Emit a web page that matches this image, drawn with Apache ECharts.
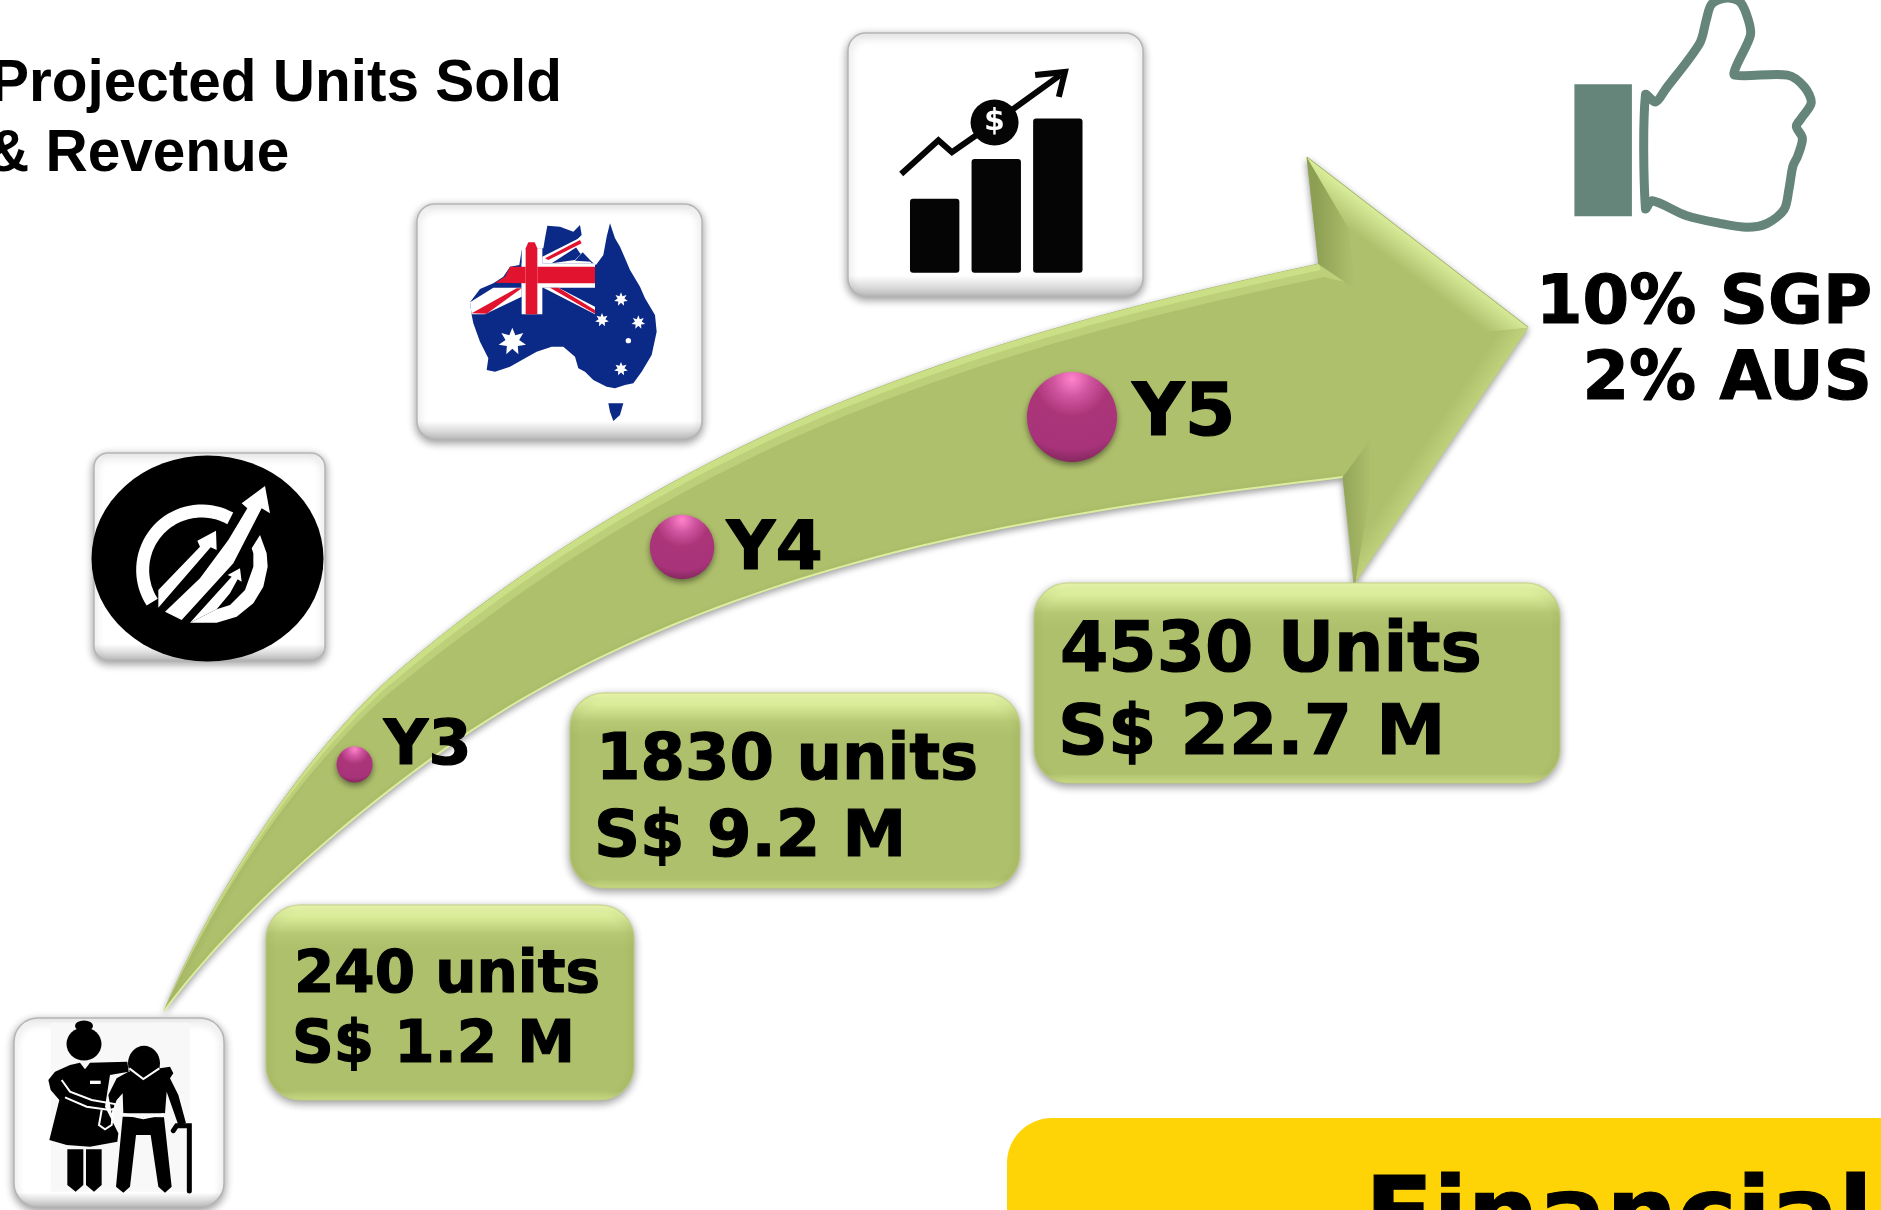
<!DOCTYPE html>
<html>
<head>
<meta charset="utf-8">
<title>Projected Units Sold & Revenue</title>
<script src="https://cdn.jsdelivr.net/npm/echarts@6/dist/echarts.min.js"></script>
<style>
  html, body { margin: 0; padding: 0; background: #fff; overflow: hidden; }
  #chart { width: 1881px; height: 1210px; }
</style>
</head>
<body>
<div id="chart"></div>
<script>
// values
const years = ['Y3', 'Y4', 'Y5'];
const unitsSold = [240, 1830, 4530];
const unitWords = ['units', 'units', 'Units'];
const revenueM = ['1.2', '9.2', '22.7'];
const progressX = [18.85, 36.26, 56.99]; // share of slide width
const progressY = [36.82, 54.79, 65.54]; // share of slide height
const titleLines = ['Projected Units Sold', '& Revenue'];
const shareLines = ['10% SGP', '2% AUS'];
const bannerText = 'Financial';

const SANS = '"DejaVu Sans"';
const ARIAL = '"Liberation Sans"';
const at = (ox, oy) => (p) => [ox + p[0] / 3, oy + p[1] / 3];
const zA = at(460, 215), zB = at(90, 450), zC = at(30, 1010), zH = at(1280, 140);
const z2 = (p) => [820 + p[0] / 1.478, p[1] / 2.53];

// flatten a cubic so it can go into a polygon
function curve(a, b, c, d) {
  const out = [];
  for (let i = 0; i <= 24; i++) {
    const t = i / 24, u = 1 - t;
    out.push([
      u * u * u * a[0] + 3 * u * u * t * b[0] + 3 * u * t * t * c[0] + t * t * t * d[0],
      u * u * u * a[1] + 3 * u * u * t * b[1] + 3 * u * t * t * c[1] + t * t * t * d[1]
    ]);
  }
  return out;
}
function vgrad(stops) {
  return { type: 'linear', x: 0, y: 0, x2: 0, y2: 1, colorStops: stops.map((s) => ({ offset: s[0], color: s[1] })) };
}
function span(a, b, c0, c1) { // gradient in slide pixels
  return { type: 'linear', global: true, x: a[0], y: a[1], x2: b[0], y2: b[1], colorStops: [{ offset: 0, color: c0 }, { offset: 1, color: c1 }] };
}
function poly(points, style, z) {
  return { type: 'polygon', z: z || 1, shape: { points: points }, style: style };
}
function line(points, style, z) {
  return { type: 'polyline', z: z || 1, shape: { points: points }, style: Object.assign({ fill: null }, style) };
}
function oval(c, rx, ry, fill, z) {
  return { type: 'circle', z: z || 2, x: c[0], y: c[1], scaleX: rx, scaleY: ry, shape: { cx: 0, cy: 0, r: 1 }, style: { fill: fill } };
}
function box(x0, y0, x1, y1, r, style, z) {
  return { type: 'rect', z: z || 1, shape: { x: x0, y: y0, width: x1 - x0, height: y1 - y0, r: r }, style: style };
}
function txt(str, x, base, size, family, align, heavy) {
  return {
    type: 'text', z: 5, x: x, y: base - 0.245 * size,
    style: {
      text: str, fill: '#000', align: align || 'left', verticalAlign: 'middle', font: 'bold ' + size + 'px ' + family,
      stroke: heavy ? '#000' : null, lineWidth: heavy ? 1.2 : 0
    }
  };
}

// arrow body
const upper = [].concat(
  curve([164, 1011], [215, 890], [300, 760], [388, 680]),
  curve([388, 680], [520, 565], [670, 475], [820, 411]),
  curve([820, 411], [990, 340], [1150, 300], [1319, 264])
);
const lower = [].concat(
  curve([1343, 477], [1150, 500], [980, 525], [820, 573]),
  curve([820, 573], [680, 615], [560, 670], [459, 739]),
  curve([459, 739], [350, 815], [240, 910], [164, 1011])
);
const arrowShape = [].concat(upper, [[1307, 157], [1528, 327], [1354, 583]], lower);
function bevel(dx, dy) { // band under the top edge, tapers away at the tail
  return upper.map((p, i) => {
    const k = Math.min(1, i / 30);
    return [p[0] + dx * k, p[1] + dy * k];
  }).reverse();
}

const graphics = [];

graphics.push(poly(arrowShape, {
  fill: '#afc06c', stroke: '#a3b266', lineWidth: 1,
  shadowBlur: 7, shadowColor: 'rgba(0,0,0,0.4)', shadowOffsetY: 3
}));
graphics.push(poly(upper.concat([[1345, 282]], bevel(5, 13)), { fill: '#bdd079' }));
graphics.push(poly(upper.concat(bevel(2, 6)), { fill: '#cbdf86' }));
graphics.push(line(lower, { stroke: '#dcee9e', lineWidth: 2 }));
// head facets
const headTop = [[80, 52], [745, 563], [590, 580], [205, 265]].map(zH);
graphics.push(poly(headTop, { fill: span([1417, 242], [1399, 266], '#d8eb98', '#afc06c') }));
graphics.push(poly([[745, 563], [225, 1330], [270, 1060], [590, 580]].map(zH), { fill: span([1442, 455], [1424, 443], '#bfd17b', '#afc06c') }));
graphics.push(poly([[80, 52], [115, 372], [230, 450], [205, 265]].map(zH), { fill: span([1316, 250], [1354, 250], '#8d9f53', '#afc06c') }));
graphics.push(poly([[188, 1012], [225, 1330], [270, 1060], [270, 900]].map(zH), { fill: span([1343, 520], [1372, 520], '#92a458', '#afc06c') }));

// green value boxes
const whiteShadow = { shadowBlur: 8, shadowColor: 'rgba(0,0,0,0.4)', shadowOffsetY: 3 };
const valueBoxes = [
  { rect: [266, 905, 634, 1100], text: 294, base: [991, 1061], size: 58 },
  { rect: [570, 693, 1020, 888], text: 596, base: [778, 855], size: 64 },
  { rect: [1034, 583, 1560, 783], text: 1060, base: [670, 753], size: 69.5 }
];
valueBoxes.forEach((b, i) => {
  graphics.push(box(b.rect[0], b.rect[1], b.rect[2], b.rect[3], 34, Object.assign({
    fill: vgrad([[0, '#eefbb0'], [0.06, '#dcee9a'], [0.15, '#b6c873'], [0.22, '#afc06c'], [0.95, '#afc06c'], [1, '#cfe088']]),
    stroke: 'rgba(190,205,120,0.6)', lineWidth: 1.5
  }, whiteShadow), 3));
  graphics.push(txt(unitsSold[i] + ' ' + unitWords[i], b.text, b.base[0], b.size, SANS, 'left', true));
  graphics.push(txt('S$ ' + revenueM[i] + ' M', b.text - 2, b.base[1], b.size, SANS, 'left', true));
});

// white icon tiles
function tile(x0, y0, x1, y1, r) {
  graphics.push(box(x0, y0, x1, y1, r, Object.assign({
    fill: vgrad([[0, '#efefef'], [0.03, '#ffffff'], [0.92, '#ffffff'], [1, '#bdbdbd']]),
    stroke: '#b5b5b5', lineWidth: 1.5
  }, whiteShadow)));
}
tile(848, 33, 1143, 296, 18);
tile(417, 204, 702, 439, 18);
tile(94, 453, 325, 660, 14);
tile(14, 1018, 224, 1207, 24);

// growth badge
graphics.push(oval([207.5, 558.5], 116, 103, '#000'));
function ringArc(c, r, from, to) {
  const pts = [];
  for (let a = from; a <= to; a += 4) {
    pts.push([c[0] + r * Math.cos(a * Math.PI / 180), c[1] + r * Math.sin(a * Math.PI / 180)]);
  }
  return pts;
}
graphics.push(line(ringArc(zB([335, 360]), 59, 147, 301), { stroke: '#fff', lineWidth: 13 }, 3));
[
  [[510, 255], [530, 310], [533, 350], [520, 410], [490, 460], [440, 500], [380, 518], [300, 518], [380, 478], [420, 465], [465, 420], [490, 350], [490, 310], [485, 295]],
  [[205, 420], [330, 290], [322, 272], [378, 242], [380, 300], [362, 292], [225, 450], [205, 473]],
  [[225, 485], [330, 385], [415, 270], [472, 175], [455, 160], [525, 108], [540, 190], [515, 175], [430, 340], [275, 510]],
  [[300, 518], [380, 430], [425, 380], [413, 375], [450, 355], [455, 395], [443, 388], [420, 430], [380, 478]]
].forEach((a) => graphics.push(poly(a.map(zB), { fill: '#fff' }, 4)));

// Australia with the flag in its corner
const NAVY = '#0b2a87', RED = '#e2132f';
graphics.push(poly([
  [30, 262], [60, 222], [100, 205], [130, 185], [150, 155], [178, 150], [185, 105], [250, 100], [255, 70], [262, 32], [300, 35],
  [340, 50], [360, 30], [365, 60], [340, 85], [360, 115], [395, 140], [408, 150], [430, 120], [440, 65], [450, 25], [465, 70],
  [480, 95], [495, 130], [510, 165], [540, 215], [555, 250], [585, 300], [590, 350], [575, 420], [545, 470], [520, 505],
  [495, 510], [465, 520], [440, 515], [400, 495], [375, 470], [355, 460], [345, 425], [310, 395], [275, 395], [230, 410],
  [195, 430], [150, 455], [105, 470], [80, 465], [85, 430], [60, 380], [40, 325], [35, 300]
].map(zA), { fill: NAVY }));
graphics.push(poly([[445, 565], [490, 565], [480, 600], [460, 618], [450, 590]].map(zA), { fill: NAVY }));
[
  [[185, 145], [405, 145], [405, 218], [185, 218]], // white behind the crossbar
  [[185, 100], [247, 100], [247, 298], [185, 298]],
  [[30, 262], [100, 218], [185, 218], [185, 245], [75, 298], [35, 298]],
  [[247, 125], [360, 68], [368, 85], [275, 145], [247, 145]],
  [[275, 145], [345, 135], [368, 112], [395, 145]],
  [[250, 218], [295, 218], [405, 275], [405, 298]]
].forEach((a) => graphics.push(poly(a.map(zA), { fill: '#fff' }, 2)));
graphics.push(poly([[395, 140], [368, 112], [345, 137]].map(zA), { fill: NAVY }, 2));
[
  [[197, 100], [205, 82], [224, 82], [232, 100], [232, 298], [197, 298]],
  [[105, 203], [135, 185], [150, 155], [197, 155], [197, 205]],
  [[232, 155], [405, 155], [405, 205], [232, 205]],
  [[35, 295], [170, 220], [185, 220], [80, 296]],
  [[255, 130], [360, 75], [365, 85], [265, 135]],
  [[270, 218], [295, 218], [405, 285], [405, 296]]
].forEach((a) => graphics.push(poly(a.map(zA), { fill: RED }, 3)));
function star(c, r) {
  const pts = [];
  for (let i = 0; i < 14; i++) {
    const a = -Math.PI / 2 + i * Math.PI / 7;
    const rr = i % 2 ? r * 0.5 : r;
    pts.push([c[0] + rr * Math.cos(a), c[1] + rr * Math.sin(a)]);
  }
  return pts;
}
[[[157, 380], 14], [[483, 253], 7], [[426, 315], 7], [[535, 322], 7], [[483, 462], 7]].forEach((s) => {
  graphics.push(poly(star(zA(s[0]), s[1]), { fill: '#fff' }, 3));
});
graphics.push(oval(zA([505, 377]), 2.7, 2.7, '#fff', 3));

// sales chart icon
[[133, 503, 206], [224, 402, 297], [315, 300, 388]].forEach((b) => {
  const a = z2([b[0], b[1]]), c = z2([b[2], 690]);
  graphics.push(box(a[0], a[1], c[0], c[1], 3, { fill: '#050505' }, 2));
});
graphics.push(line([[120, 440], [175, 355], [195, 385], [258, 310], [355, 190]].map(z2), { stroke: '#050505', lineWidth: 6 }, 2));
graphics.push(line([[318, 190], [362, 182], [353, 245]].map(z2), { stroke: '#050505', lineWidth: 6 }, 2));
const coin = z2([258, 310]);
graphics.push(oval(coin, 24, 23, '#050505', 3));
graphics.push({
  type: 'text', z: 4, x: coin[0], y: coin[1],
  style: { text: '$', fill: '#fff', align: 'center', verticalAlign: 'middle', font: 'bold 30px ' + SANS }
});

// carer and elderly man icon
const a3 = zC([62, 38]), b3 = zC([480, 545]);
graphics.push(box(a3[0], a3[1], b3[0], b3[1], 0, { fill: '#f8f8f8' }, 2));
const BK = '#000';
[
  [[120, 165], [150, 158], [165, 178], [180, 158], [292, 155], [296, 185], [240, 195], [225, 290], [265, 370], [262, 395], [180, 410], [110, 405], [58, 390], [88, 270], [62, 240], [55, 210], [75, 185]],
  [[112, 418], [160, 418], [160, 525], [137, 545], [112, 525]],
  [[168, 418], [215, 418], [215, 525], [192, 545], [168, 525]],
  [[245, 310], [235, 255], [260, 205], [295, 185], [390, 175], [420, 170], [430, 190], [420, 205], [445, 255], [468, 340], [445, 345], [410, 245], [405, 310], [280, 310], [278, 250], [260, 270]],
  [[278, 320], [402, 322], [425, 530], [405, 548], [385, 530], [362, 375], [318, 375], [300, 530], [280, 548], [258, 530]]
].forEach((a) => graphics.push(poly(a.map(zC), { fill: BK }, 3)));
graphics.push(oval(zC([162, 102]), 17.5, 16.5, BK, 3));
graphics.push(oval(zC([162, 48]), 9, 5.5, BK, 3));
graphics.push(oval(zC([342, 160]), 16, 17.5, BK, 4));
[
  [[95, 210], [120, 245], [185, 270], [255, 282], [258, 295], [240, 300], [170, 290], [105, 262]],
  [[215, 300], [207, 345], [225, 358], [245, 345], [250, 300]],
  [[298, 175], [340, 207], [388, 175]],
  [[280, 312], [340, 325], [403, 312]]
].forEach((a) => graphics.push(line(a.map(zC), { stroke: '#fff', lineWidth: 2 }, 5)));
graphics.push(box(zC([180, 212])[0], zC([180, 212])[1], zC([212, 222])[0], zC([212, 222])[1], 0, { fill: '#fff' }, 5));
graphics.push(line([[430, 362], [440, 347], [478, 347], [478, 543]].map(zC), { stroke: BK, lineWidth: 5, lineCap: 'round' }, 4));

// thumbs up
const THUMB = '#65847a';
const r1 = z2([1115, 213]), r2 = z2([1200, 547]);
graphics.push(box(r1[0], r1[1], r2[0], r2[1], 0, { fill: THUMB }));
graphics.push({
  type: 'polygon', z: 1,
  shape: {
    smooth: 0.3,
    points: [
      [1220, 240], [1235, 258], [1250, 225], [1300, 110], [1310, 50], [1318, 10], [1340, -5], [1360, 5], [1372, 50], [1375, 90],
      [1355, 165], [1352, 190], [1430, 190], [1455, 220], [1465, 260], [1450, 300], [1443, 320], [1452, 350], [1445, 395],
      [1438, 420], [1432, 480], [1425, 530], [1400, 565], [1370, 575], [1330, 565], [1280, 545], [1230, 508], [1220, 528]
    ].map(z2)
  },
  style: { fill: 'none', stroke: THUMB, lineWidth: 9, lineJoin: 'round' }
});

// heading, share text, banner
graphics.push(txt(titleLines[0], -10, 99, 58.5, ARIAL));
graphics.push(txt(titleLines[1], -13, 169, 58.5, ARIAL));
graphics.push(txt(shareLines[0], 1872, 322, 67, SANS, 'right', true));
graphics.push(txt(shareLines[1], 1872, 398, 67, SANS, 'right', true));
graphics.push(box(1007, 1118, 2000, 1400, 45, { fill: '#ffd406' }));
graphics.push(txt(bannerText, 1365, 1247, 100, SANS, 'left', true));

// per bubble label look, same order as years
const labelSizes = [62, 68, 73];
const labelGaps = [11, 12, 15];
const labelLift = [-17, 4, -1];

const chart = echarts.init(document.getElementById('chart'));
chart.setOption({
  backgroundColor: '#fff',
  animation: false,
  grid: { left: 0, right: 0, top: 0, bottom: 0 },
  xAxis: { type: 'value', min: 0, max: 100, show: false },
  yAxis: { type: 'value', min: 0, max: 100, show: false },
  graphic: { elements: graphics },
  series: [{
    type: 'scatter',
    z: 10,
    silent: true,
    data: years.map((name, i) => ({
      name: name,
      value: [progressX[i], progressY[i], unitsSold[i]],
      label: {
        show: true,
        position: 'right',
        distance: labelGaps[i],
        offset: [0, labelLift[i]],
        formatter: '{b}',
        color: '#000',
        fontFamily: SANS,
        fontWeight: 'bold',
        fontSize: labelSizes[i],
        textBorderColor: '#000',
        textBorderWidth: 1.2
      }
    })),
    symbol: 'circle',
    symbolSize: (v) => 20 + 1.04 * Math.sqrt(v[2]), // bubble grows with units sold
    itemStyle: {
      opacity: 1,
      color: {
        type: 'radial', x: 0.5, y: 0.08, r: 0.92,
        colorStops: [
          { offset: 0, color: '#ff82cb' },
          { offset: 0.22, color: '#d055a0' },
          { offset: 0.45, color: '#ac3579' },
          { offset: 0.85, color: '#a8337a' },
          { offset: 1, color: '#862860' }
        ]
      },
      shadowBlur: 6,
      shadowColor: 'rgba(0,0,0,0.45)',
      shadowOffsetY: 3
    }
  }]
});
window.addEventListener('resize', () => chart.resize());
</script>
</body>
</html>
